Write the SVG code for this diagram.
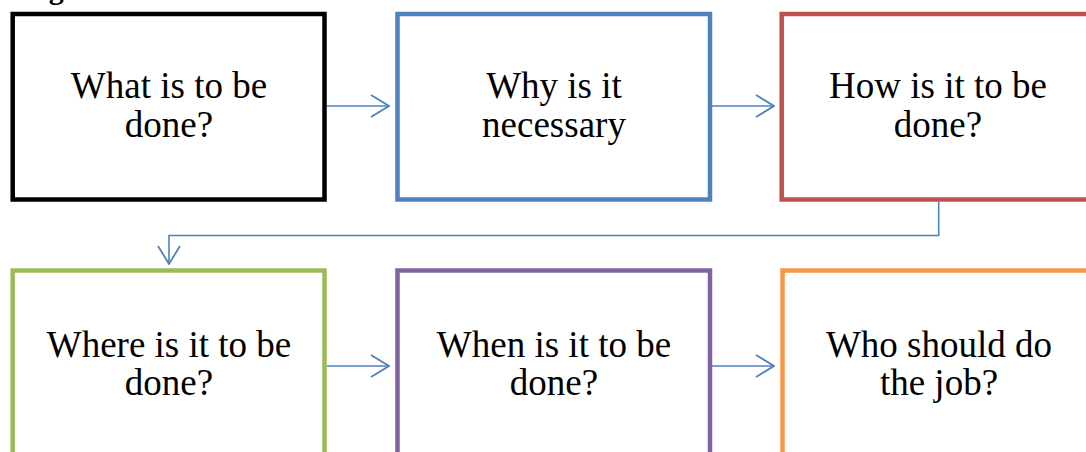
<svg xmlns="http://www.w3.org/2000/svg" width="1086" height="452" viewBox="0 0 1086 452">
<defs>
<style>
.box{fill:#fff;stroke-width:4.5}
.t{font-family:"Liberation Serif","Times New Roman",serif;font-size:37px;fill:#000;text-anchor:middle}
.c{fill:none;stroke:#4F81BD;stroke-width:1.6}
</style>
<marker id="arr" viewBox="0 0 20 24" refX="19" refY="12" markerWidth="20" markerHeight="24" markerUnits="userSpaceOnUse" orient="auto">
<path d="M1,1 L19,12 L1,23" fill="none" stroke="#4F81BD" stroke-width="1.8"/>
</marker>
</defs>
<rect width="1086" height="452" fill="#fff"/>
<text x="22" y="-1.5" font-family="Liberation Serif, serif" font-weight="bold" font-size="30" fill="#000">Figure 2.1a:</text>
<g id="connectors">
<path class="c" d="M327,106 L389,106" marker-end="url(#arr)"/>
<path class="c" d="M712,106 L774,106" marker-end="url(#arr)"/>
<path class="c" d="M938.7,202 L938.7,235.5 L169,235.5 L169,264" marker-end="url(#arr)"/>
<path class="c" d="M327,366 L389,366" marker-end="url(#arr)"/>
<path class="c" d="M712,366 L774,366" marker-end="url(#arr)"/>
</g>
<g id="n1"><rect class="box" x="12.7" y="14" width="311.8" height="185.5" stroke="#000"/>
<text class="t" x="169" y="98">What is to be</text><text class="t" x="169" y="137">done?</text></g>
<g id="n2"><rect class="box" x="397.5" y="14" width="312.5" height="185.5" stroke="#4F81BD"/>
<text class="t" x="554" y="98">Why is it</text><text class="t" x="554" y="137">necessary</text></g>
<g id="n3"><rect class="box" x="781.7" y="14" width="312" height="185.5" stroke="#C0504D"/>
<text class="t" x="938" y="98">How is it to be</text><text class="t" x="938" y="137">done?</text></g>
<g id="n4"><rect class="box" x="12.7" y="270.5" width="311.8" height="200" stroke="#9BBB59"/>
<text class="t" x="169" y="357">Where is it to be</text><text class="t" x="169" y="395">done?</text></g>
<g id="n5"><rect class="box" x="397.5" y="270.5" width="312.5" height="200" stroke="#8064A2"/>
<text class="t" x="554" y="357">When is it to be</text><text class="t" x="554" y="395">done?</text></g>
<g id="n6"><rect class="box" x="782.5" y="270.5" width="312" height="200" stroke="#F79646"/>
<text class="t" x="939" y="357">Who should do</text><text class="t" x="939" y="395">the job?</text></g>
</svg>
